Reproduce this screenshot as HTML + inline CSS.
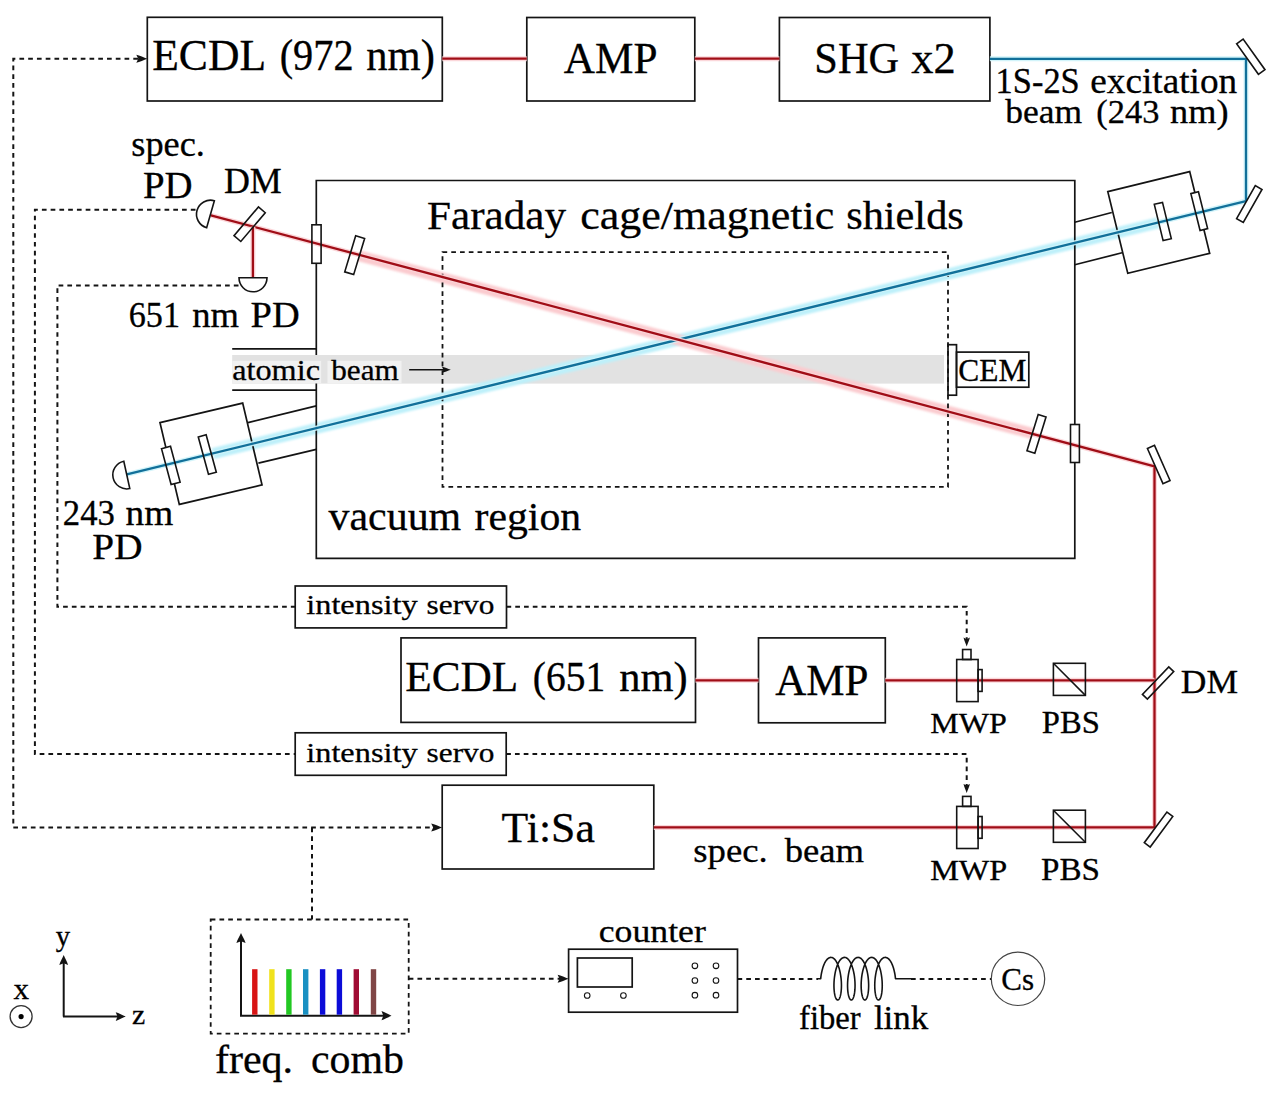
<!DOCTYPE html>
<html><head><meta charset="utf-8"><style>
html,body{margin:0;padding:0;background:#fff;}
svg{display:block;font-family:"Liberation Serif",serif;}
</style></head><body>
<svg width="1277" height="1094" viewBox="0 0 1277 1094">
<defs><filter id="soft" x="-5%" y="-50%" width="110%" height="200%"><feGaussianBlur stdDeviation="0.8"/></filter></defs>
<rect width="1277" height="1094" fill="#fff"/>
<polyline points="138.0,58.8 13.3,58.8 13.3,827.6 433.0,827.6" fill="none" stroke="#141414" stroke-width="2.0" stroke-dasharray="4.7 4.06" />
<path d="M147.30,58.80 C144.00,60.00 139.60,62.00 136.30,62.80 L138.28,58.80 L136.30,54.80 C139.60,55.60 144.00,57.60 147.30,58.80 Z" fill="#141414" stroke="none"/>
<path d="M442.20,827.60 C438.90,828.80 434.50,830.80 431.20,831.60 L433.18,827.60 L431.20,823.60 C434.50,824.40 438.90,826.40 442.20,827.60 Z" fill="#141414" stroke="none"/>
<polyline points="195.5,209.8 34.9,209.8 34.9,754.0 295.2,754.0" fill="none" stroke="#141414" stroke-width="2.0" stroke-dasharray="4.7 4.06" />
<polyline points="506.2,754.0 966.7,754.0 966.7,786.0" fill="none" stroke="#141414" stroke-width="2.0" stroke-dasharray="4.7 4.06" />
<path d="M966.70,793.00 C965.74,790.30 964.14,786.70 963.50,784.00 L966.70,785.62 L969.90,784.00 C969.26,786.70 967.66,790.30 966.70,793.00 Z" fill="#141414" stroke="none"/>
<polyline points="238.5,285.5 57.4,285.5 57.4,606.8 295.2,606.8" fill="none" stroke="#141414" stroke-width="2.0" stroke-dasharray="4.7 4.06" />
<polyline points="506.5,606.8 966.7,606.8 966.7,640.0" fill="none" stroke="#141414" stroke-width="2.0" stroke-dasharray="4.7 4.06" />
<path d="M966.70,646.60 C965.74,643.90 964.14,640.30 963.50,637.60 L966.70,639.22 L969.90,637.60 C969.26,640.30 967.66,643.90 966.70,646.60 Z" fill="#141414" stroke="none"/>
<polyline points="312.0,827.6 312.0,919.5" fill="none" stroke="#141414" stroke-width="2.0" stroke-dasharray="4.7 4.06" />
<polyline points="408.7,978.8 560.0,978.8" fill="none" stroke="#141414" stroke-width="2.0" stroke-dasharray="4.7 4.06" />
<path d="M568.60,978.80 C565.30,980.00 560.90,982.00 557.60,982.80 L559.58,978.80 L557.60,974.80 C560.90,975.60 565.30,977.60 568.60,978.80 Z" fill="#141414" stroke="none"/>
<polyline points="737.5,978.9 818.0,978.9" fill="none" stroke="#141414" stroke-width="2.0" stroke-dasharray="4.7 4.06" />
<polyline points="911.0,978.9 991.1,978.9" fill="none" stroke="#141414" stroke-width="2.0" stroke-dasharray="4.7 4.06" />
<rect x="232.2" y="355.0" width="711.8" height="28.6" fill="#e2e2e2"/>
<rect x="232.2" y="360.8" width="89" height="22.8" fill="#f1f1f1"/>
<rect x="327.5" y="360.8" width="74" height="22.8" fill="#f1f1f1"/>
<line x1="213" y1="453.6" x2="1158" y2="222.8" stroke="#bdf0fa" stroke-width="11" filter="url(#soft)"/>
<line x1="356" y1="255.0" x2="1036" y2="434.4" stroke="#fbcbcf" stroke-width="11" filter="url(#soft)"/>
<rect x="147.3" y="17.3" width="295.0" height="83.7" fill="none" stroke="#141414" stroke-width="1.7" />
<rect x="526.8" y="17.5" width="168.0" height="83.5" fill="none" stroke="#141414" stroke-width="1.7" />
<rect x="779.4" y="17.5" width="210.5" height="83.5" fill="none" stroke="#141414" stroke-width="1.7" />
<path d="M316.3,355 V180.5 H1074.8 V558.3 H316.3 V383.6" fill="none" stroke="#141414" stroke-width="1.7"/>
<rect x="442.5" y="252.1" width="505.5" height="234.8" fill="none" stroke="#141414" stroke-width="1.8" stroke-dasharray="4.7 4.06"/>
<rect x="948.0" y="344.7" width="8.5" height="50.5" fill="none" stroke="#141414" stroke-width="1.7" />
<rect x="956.5" y="352.1" width="72.3" height="35.1" fill="none" stroke="#141414" stroke-width="1.7" />
<rect x="295.2" y="586.0" width="211.3" height="41.9" fill="none" stroke="#141414" stroke-width="1.7" />
<rect x="295.2" y="732.8" width="211.0" height="42.5" fill="none" stroke="#141414" stroke-width="1.7" />
<rect x="401.0" y="637.9" width="294.5" height="84.5" fill="none" stroke="#141414" stroke-width="1.7" />
<rect x="758.5" y="637.9" width="126.8" height="84.9" fill="none" stroke="#141414" stroke-width="1.7" />
<rect x="442.2" y="785.2" width="211.6" height="83.8" fill="none" stroke="#141414" stroke-width="1.7" />
<rect x="210.7" y="919.5" width="198.0" height="114.1" fill="none" stroke="#141414" stroke-width="1.8" stroke-dasharray="4.7 4.06"/>
<line x1="232.2" y1="348.8" x2="316.3" y2="348.8" stroke="#141414" stroke-width="1.7" />
<line x1="232.2" y1="390.2" x2="316.3" y2="390.2" stroke="#141414" stroke-width="1.7" />
<line x1="409.2" y1="369.7" x2="446.0" y2="369.7" stroke="#141414" stroke-width="1.5" />
<path d="M450.80,369.70 C448.10,370.66 444.50,372.26 441.80,372.90 L443.42,369.70 L441.80,366.50 C444.50,367.14 448.10,368.74 450.80,369.70 Z" fill="#141414" stroke="none"/>
<line x1="1074.8" y1="222.2" x2="1111.8" y2="212.5" stroke="#141414" stroke-width="1.7" />
<line x1="1074.8" y1="264.7" x2="1122.0" y2="252.8" stroke="#141414" stroke-width="1.7" />
<line x1="248.0" y1="422.6" x2="316.3" y2="405.8" stroke="#141414" stroke-width="1.7" />
<line x1="258.4" y1="463.2" x2="316.3" y2="449.3" stroke="#141414" stroke-width="1.7" />
<polygon points="1107.81,191.67 1189.71,171.62 1209.69,253.28 1127.79,273.33" fill="none" stroke="#141414" stroke-width="1.7" stroke-linejoin="miter" />
<polygon points="159.98,422.66 242.68,403.11 262.02,484.89 179.32,504.44" fill="none" stroke="#141414" stroke-width="1.7" stroke-linejoin="miter" />
<polygon points="1190.86,193.65 1198.44,191.75 1207.64,228.65 1200.06,230.55" fill="#fff" stroke="none" stroke-width="0" stroke-linejoin="miter" />
<polygon points="161.50,448.65 170.50,446.25 180.10,482.15 171.10,484.55" fill="#fff" stroke="none" stroke-width="0" stroke-linejoin="miter" />
<polygon points="344.73,271.89 353.67,274.61 364.62,238.51 355.68,235.79" fill="#fff" stroke="none" stroke-width="0" stroke-linejoin="miter" />
<polygon points="1026.98,450.84 1034.82,453.26 1046.02,416.91 1038.18,414.49" fill="#fff" stroke="none" stroke-width="0" stroke-linejoin="miter" />
<polygon points="1154.30,204.34 1162.50,202.36 1171.30,238.66 1163.10,240.64" fill="#fff" stroke="none" stroke-width="0" stroke-linejoin="miter" />
<polygon points="198.28,436.97 206.12,434.83 216.32,472.18 208.48,474.32" fill="#fff" stroke="none" stroke-width="0" stroke-linejoin="miter" />
<polygon points="234.00,235.71 240.80,241.49 265.25,212.74 258.45,206.96" fill="#fff" stroke="none" stroke-width="0" stroke-linejoin="miter" />
<polygon points="1142.42,694.38 1147.38,699.12 1173.73,671.57 1168.77,666.83" fill="#fff" stroke="none" stroke-width="0" stroke-linejoin="miter" />
<rect x="311.9" y="224.8" width="9.2" height="38.5" fill="#fff" stroke="none" stroke-width="0" />
<rect x="1070.5" y="424.5" width="8.9" height="38.0" fill="#fff" stroke="none" stroke-width="0" />
<rect x="956.7" y="659.5" width="21.4" height="42.1" fill="#fff" stroke="none" stroke-width="0" />
<rect x="962.6" y="649.5" width="8.4" height="10.0" fill="#fff" stroke="none" stroke-width="0" />
<rect x="978.1" y="669.6" width="4.0" height="21.8" fill="#fff" stroke="none" stroke-width="0" />
<rect x="956.7" y="806.4" width="21.4" height="42.1" fill="#fff" stroke="none" stroke-width="0" />
<rect x="962.6" y="796.4" width="8.4" height="10.0" fill="#fff" stroke="none" stroke-width="0" />
<rect x="978.1" y="816.5" width="4.0" height="21.8" fill="#fff" stroke="none" stroke-width="0" />
<rect x="1053.4" y="663.3" width="32.0" height="32.1" fill="#fff" stroke="none" stroke-width="0" />
<rect x="1053.4" y="810.2" width="32.0" height="32.1" fill="#fff" stroke="none" stroke-width="0" />
<polyline points="989.90,58.80 1246.00,58.80 1246.00,201.00 126.80,474.40" fill="none" stroke="#cdf3fa" stroke-width="5.0" stroke-linejoin="miter" opacity="0.9"/>
<polyline points="989.90,58.80 1246.00,58.80 1246.00,201.00 126.80,474.40" fill="none" stroke="#11709a" stroke-width="2.3" stroke-linejoin="miter"/>
<polyline points="442.30,58.70 526.80,58.70" fill="none" stroke="#fbd3d6" stroke-width="5.0" stroke-linejoin="miter" opacity="0.9"/>
<polyline points="442.30,58.70 526.80,58.70" fill="none" stroke="#a00d16" stroke-width="2.3" stroke-linejoin="miter"/>
<polyline points="694.80,58.70 779.40,58.70" fill="none" stroke="#fbd3d6" stroke-width="5.0" stroke-linejoin="miter" opacity="0.9"/>
<polyline points="694.80,58.70 779.40,58.70" fill="none" stroke="#a00d16" stroke-width="2.3" stroke-linejoin="miter"/>
<polyline points="210.90,215.40 1154.50,466.40 1154.50,827.40 653.80,827.40" fill="none" stroke="#fbd3d6" stroke-width="5.0" stroke-linejoin="miter" opacity="0.9"/>
<polyline points="210.90,215.40 1154.50,466.40 1154.50,827.40 653.80,827.40" fill="none" stroke="#a00d16" stroke-width="2.3" stroke-linejoin="miter"/>
<polyline points="695.50,680.30 758.50,680.30" fill="none" stroke="#fbd3d6" stroke-width="5.0" stroke-linejoin="miter" opacity="0.9"/>
<polyline points="695.50,680.30 758.50,680.30" fill="none" stroke="#a00d16" stroke-width="2.3" stroke-linejoin="miter"/>
<polyline points="885.30,680.30 1154.50,680.30" fill="none" stroke="#fbd3d6" stroke-width="5.0" stroke-linejoin="miter" opacity="0.9"/>
<polyline points="885.30,680.30 1154.50,680.30" fill="none" stroke="#a00d16" stroke-width="2.3" stroke-linejoin="miter"/>
<polyline points="252.90,226.57 252.90,277.80" fill="none" stroke="#fbd3d6" stroke-width="5.0" stroke-linejoin="miter" opacity="0.9"/>
<polyline points="252.90,226.57 252.90,277.80" fill="none" stroke="#a00d16" stroke-width="2.3" stroke-linejoin="miter"/>
<polygon points="1190.86,193.65 1198.44,191.75 1207.64,228.65 1200.06,230.55" fill="none" stroke="#141414" stroke-width="1.6" stroke-linejoin="miter" />
<polygon points="161.50,448.65 170.50,446.25 180.10,482.15 171.10,484.55" fill="none" stroke="#141414" stroke-width="1.6" stroke-linejoin="miter" />
<polygon points="344.73,271.89 353.67,274.61 364.62,238.51 355.68,235.79" fill="none" stroke="#141414" stroke-width="1.6" stroke-linejoin="miter" />
<polygon points="1026.98,450.84 1034.82,453.26 1046.02,416.91 1038.18,414.49" fill="none" stroke="#141414" stroke-width="1.6" stroke-linejoin="miter" />
<polygon points="1154.30,204.34 1162.50,202.36 1171.30,238.66 1163.10,240.64" fill="none" stroke="#141414" stroke-width="1.6" stroke-linejoin="miter" />
<polygon points="198.28,436.97 206.12,434.83 216.32,472.18 208.48,474.32" fill="none" stroke="#141414" stroke-width="1.6" stroke-linejoin="miter" />
<polygon points="234.00,235.71 240.80,241.49 265.25,212.74 258.45,206.96" fill="none" stroke="#141414" stroke-width="1.6" stroke-linejoin="miter" />
<polygon points="1142.42,694.38 1147.38,699.12 1173.73,671.57 1168.77,666.83" fill="none" stroke="#141414" stroke-width="1.6" stroke-linejoin="miter" />
<rect x="311.9" y="224.8" width="9.2" height="38.5" fill="none" stroke="#141414" stroke-width="1.6" />
<rect x="1070.5" y="424.5" width="8.9" height="38.0" fill="none" stroke="#141414" stroke-width="1.6" />
<rect x="956.7" y="659.5" width="21.4" height="42.1" fill="none" stroke="#141414" stroke-width="1.6" />
<rect x="962.6" y="649.5" width="8.4" height="10.0" fill="none" stroke="#141414" stroke-width="1.6" />
<rect x="978.1" y="669.6" width="4.0" height="21.8" fill="none" stroke="#141414" stroke-width="1.6" />
<rect x="956.7" y="806.4" width="21.4" height="42.1" fill="none" stroke="#141414" stroke-width="1.6" />
<rect x="962.6" y="796.4" width="8.4" height="10.0" fill="none" stroke="#141414" stroke-width="1.6" />
<rect x="978.1" y="816.5" width="4.0" height="21.8" fill="none" stroke="#141414" stroke-width="1.6" />
<rect x="1053.4" y="663.3" width="32.0" height="32.1" fill="none" stroke="#141414" stroke-width="1.6" />
<line x1="1053.4" y1="663.3" x2="1085.4" y2="695.4" stroke="#141414" stroke-width="1.6" />
<rect x="1053.4" y="810.2" width="32.0" height="32.1" fill="none" stroke="#141414" stroke-width="1.6" />
<line x1="1053.4" y1="810.2" x2="1085.4" y2="842.3" stroke="#141414" stroke-width="1.6" />
<polygon points="1236.58,43.79 1243.12,39.11 1264.97,69.66 1258.43,74.34" fill="#fff" stroke="#141414" stroke-width="1.6" stroke-linejoin="miter" />
<polygon points="1236.61,218.61 1255.31,185.66 1261.99,189.44 1243.29,222.39" fill="#fff" stroke="#141414" stroke-width="1.6" stroke-linejoin="miter" />
<polygon points="1147.41,448.46 1154.49,445.34 1170.04,480.54 1162.96,483.66" fill="#fff" stroke="#141414" stroke-width="1.6" stroke-linejoin="miter" />
<polygon points="1144.31,842.67 1150.19,847.03 1172.79,816.48 1166.91,812.12" fill="#fff" stroke="#141414" stroke-width="1.6" stroke-linejoin="miter" />
<path d="M0,-14.0 A14.0,14.0 0 0 0 0,14.0 Z" transform="translate(210.5,214.2) rotate(16.0)" fill="#fff" stroke="#141414" stroke-width="1.6"/>
<path d="M0,-14.0 A14.0,14.0 0 0 0 0,14.0 Z" transform="translate(253.0,277.8) rotate(-90.0)" fill="#fff" stroke="#141414" stroke-width="1.6"/>
<path d="M0,-14.0 A14.0,14.0 0 0 0 0,14.0 Z" transform="translate(126.8,474.9) rotate(-12.4)" fill="#fff" stroke="#141414" stroke-width="1.6"/>
<line x1="63.7" y1="1016.6" x2="63.7" y2="960.0" stroke="#141414" stroke-width="2.0" />
<path d="M63.70,955.00 C65.02,958.00 67.22,962.00 68.10,965.00 L63.70,963.20 L59.30,965.00 C60.18,962.00 62.38,958.00 63.70,955.00 Z" fill="#141414" stroke="none"/>
<line x1="63.0" y1="1016.6" x2="120.0" y2="1016.6" stroke="#141414" stroke-width="2.0" />
<path d="M125.70,1016.60 C122.70,1017.92 118.70,1020.12 115.70,1021.00 L117.50,1016.60 L115.70,1012.20 C118.70,1013.08 122.70,1015.28 125.70,1016.60 Z" fill="#141414" stroke="none"/>
<circle cx="21.1" cy="1016.6" r="11.0" fill="none" stroke="#333" stroke-width="1.3"/>
<circle cx="21.1" cy="1016.6" r="2.6" fill="#000"/>
<line x1="241.0" y1="1015.7" x2="241.0" y2="939.0" stroke="#141414" stroke-width="2.0" />
<path d="M241.00,933.10 C242.38,936.10 244.68,940.10 245.60,943.10 L241.00,941.30 L236.40,943.10 C237.32,940.10 239.62,936.10 241.00,933.10 Z" fill="#141414" stroke="none"/>
<line x1="240.0" y1="1015.7" x2="386.0" y2="1015.7" stroke="#141414" stroke-width="2.0" />
<path d="M391.50,1015.70 C388.50,1017.08 384.50,1019.38 381.50,1020.30 L383.30,1015.70 L381.50,1011.10 C384.50,1012.02 388.50,1014.32 391.50,1015.70 Z" fill="#141414" stroke="none"/>
<rect x="252.1" y="969.2" width="5.4" height="45.5" fill="#d81414"/>
<rect x="269.2" y="969.2" width="5.4" height="45.5" fill="#f0e21c"/>
<rect x="286.2" y="969.2" width="5.4" height="45.5" fill="#22c822"/>
<rect x="303.0" y="969.2" width="5.4" height="45.5" fill="#1a90c2"/>
<rect x="319.9" y="969.2" width="5.4" height="45.5" fill="#0c0cd8"/>
<rect x="336.7" y="969.2" width="5.4" height="45.5" fill="#0c0cd8"/>
<rect x="353.6" y="969.2" width="5.4" height="45.5" fill="#a00c34"/>
<rect x="370.8" y="969.2" width="5.4" height="45.5" fill="#804646"/>
<rect x="568.6" y="949.2" width="168.9" height="63.0" fill="none" stroke="#141414" stroke-width="1.7" />
<rect x="577.4" y="958.0" width="54.8" height="29.0" fill="none" stroke="#141414" stroke-width="1.7" />
<circle cx="587.2" cy="995.5" r="2.8" fill="none" stroke="#141414" stroke-width="1.1"/>
<circle cx="623.4" cy="995.5" r="2.8" fill="none" stroke="#141414" stroke-width="1.1"/>
<circle cx="694.9" cy="965.8" r="2.8" fill="none" stroke="#141414" stroke-width="1.1"/>
<circle cx="716.0" cy="965.8" r="2.8" fill="none" stroke="#141414" stroke-width="1.1"/>
<circle cx="694.9" cy="980.5" r="2.8" fill="none" stroke="#141414" stroke-width="1.1"/>
<circle cx="716.0" cy="980.5" r="2.8" fill="none" stroke="#141414" stroke-width="1.1"/>
<circle cx="694.9" cy="995.2" r="2.8" fill="none" stroke="#141414" stroke-width="1.1"/>
<circle cx="716.0" cy="995.2" r="2.8" fill="none" stroke="#141414" stroke-width="1.1"/>
<polyline points="817.80,978.80 820.70,978.70 820.87,977.20 821.07,975.70 821.31,974.22 821.58,972.76 821.89,971.33 822.22,969.93 822.59,968.59 822.98,967.29 823.41,966.05 823.86,964.87 824.34,963.76 824.84,962.72 825.36,961.77 825.91,960.90 826.47,960.12 827.05,959.43 827.65,958.83 828.25,958.34 828.87,957.95 829.50,957.66 830.13,957.48 830.76,957.40 831.39,957.43 832.02,957.57 832.65,957.81 833.27,958.15 833.88,958.60 834.48,959.15 835.07,959.80 835.64,960.54 836.20,961.37 836.73,962.29 837.24,963.29 837.73,964.36 838.20,965.51 838.63,966.73 839.04,968.00 839.42,969.33 839.77,970.70 840.09,972.12 840.37,973.57 840.62,975.04 840.84,976.53 841.03,978.03 841.18,979.54 841.30,981.04 841.38,982.53 841.43,984.00 841.45,985.44 841.43,986.85 841.39,988.22 841.31,989.54 841.20,990.81 841.07,992.02 840.91,993.16 840.72,994.23 840.51,995.22 840.28,996.13 840.03,996.95 839.77,997.68 839.48,998.31 839.19,998.85 838.88,999.29 838.57,999.62 838.24,999.85 837.92,999.98 837.59,999.99 837.26,999.91 836.94,999.71 836.62,999.41 836.31,999.01 836.01,998.50 835.73,997.90 835.45,997.20 835.20,996.41 834.96,995.53 834.74,994.57 834.55,993.52 834.38,992.41 834.24,991.22 834.12,989.97 834.04,988.67 833.98,987.31 833.95,985.92 833.96,984.48 834.00,983.02 834.07,981.54 834.18,980.04 834.32,978.53 834.49,977.03 834.70,975.53 834.94,974.05 835.21,972.60 835.52,971.17 835.86,969.78 836.23,968.44 836.63,967.15 837.06,965.91 837.51,964.74 837.99,963.64 838.50,962.61 839.02,961.67 839.57,960.81 840.14,960.03 840.72,959.36 841.31,958.78 841.92,958.29 842.54,957.91 843.17,957.64 843.80,957.47 844.43,957.40 845.06,957.44 845.69,957.59 846.32,957.84 846.94,958.20 847.55,958.66 848.15,959.22 848.74,959.88 849.31,960.63 849.86,961.47 850.39,962.40 850.90,963.40 851.38,964.49 851.85,965.65 852.28,966.87 852.68,968.15 853.06,969.48 853.41,970.86 853.72,972.28 854.00,973.73 854.25,975.20 854.47,976.70 854.65,978.20 854.79,979.70 854.91,981.20 854.99,982.69 855.03,984.16 855.05,985.60 855.03,987.01 854.98,988.37 854.90,989.69 854.79,990.95 854.65,992.15 854.49,993.28 854.30,994.34 854.09,995.32 853.86,996.22 853.61,997.03 853.34,997.75 853.05,998.38 852.76,998.91 852.45,999.33 852.13,999.65 851.81,999.87 851.48,999.98 851.15,999.99 850.83,999.89 850.50,999.68 850.19,999.37 849.88,998.96 849.58,998.44 849.29,997.83 849.02,997.12 848.77,996.32 848.54,995.43 848.32,994.45 848.13,993.40 847.96,992.28 847.82,991.08 847.71,989.83 847.63,988.52 847.58,987.16 847.55,985.76 847.56,984.32 847.61,982.86 847.68,981.37 847.79,979.87 847.93,978.37 848.11,976.86 848.32,975.37 848.57,973.89 848.85,972.44 849.16,971.01 849.50,969.63 849.87,968.29 850.27,967.01 850.71,965.78 851.16,964.61 851.65,963.52 852.15,962.50 852.68,961.57 853.23,960.72 853.80,959.95 854.38,959.29 854.98,958.72 855.59,958.25 856.21,957.88 856.84,957.61 857.47,957.45 858.10,957.40 858.73,957.45 859.36,957.61 859.99,957.88 860.61,958.25 861.22,958.72 861.82,959.29 862.40,959.95 862.97,960.72 863.52,961.57 864.05,962.50 864.55,963.52 865.04,964.61 865.49,965.78 865.93,967.01 866.33,968.29 866.70,969.63 867.04,971.01 867.35,972.44 867.63,973.89 867.88,975.37 868.09,976.86 868.27,978.37 868.41,979.87 868.52,981.37 868.59,982.86 868.64,984.32 868.65,985.76 868.62,987.16 868.57,988.52 868.49,989.83 868.38,991.08 868.24,992.28 868.07,993.40 867.88,994.45 867.66,995.43 867.43,996.32 867.18,997.12 866.91,997.83 866.62,998.44 866.32,998.96 866.01,999.37 865.70,999.68 865.37,999.89 865.05,999.99 864.72,999.98 864.39,999.87 864.07,999.65 863.75,999.33 863.44,998.91 863.15,998.38 862.86,997.75 862.59,997.03 862.34,996.22 862.11,995.32 861.90,994.34 861.71,993.28 861.55,992.15 861.41,990.95 861.30,989.69 861.22,988.37 861.17,987.01 861.15,985.60 861.17,984.16 861.21,982.69 861.29,981.20 861.41,979.70 861.55,978.20 861.73,976.70 861.95,975.20 862.20,973.73 862.48,972.28 862.79,970.86 863.14,969.48 863.52,968.15 863.92,966.87 864.35,965.65 864.82,964.49 865.30,963.40 865.81,962.40 866.34,961.47 866.89,960.63 867.46,959.88 868.05,959.22 868.65,958.66 869.26,958.20 869.88,957.84 870.51,957.59 871.14,957.44 871.77,957.40 872.40,957.47 873.03,957.64 873.66,957.91 874.28,958.29 874.89,958.78 875.48,959.36 876.06,960.03 876.63,960.81 877.18,961.67 877.70,962.61 878.21,963.64 878.69,964.74 879.14,965.91 879.57,967.15 879.97,968.44 880.34,969.78 880.68,971.17 880.99,972.60 881.26,974.05 881.50,975.53 881.71,977.03 881.88,978.53 882.02,980.04 882.13,981.54 882.20,983.02 882.24,984.48 882.25,985.92 882.22,987.31 882.16,988.67 882.08,989.97 881.96,991.22 881.82,992.41 881.65,993.52 881.46,994.57 881.24,995.53 881.00,996.41 880.75,997.20 880.47,997.90 880.19,998.50 879.89,999.01 879.58,999.41 879.26,999.71 878.94,999.91 878.61,999.99 878.28,999.98 877.96,999.85 877.63,999.62 877.32,999.29 877.01,998.85 876.72,998.31 876.43,997.68 876.17,996.95 875.92,996.13 875.69,995.22 875.48,994.23 875.29,993.16 875.13,992.02 875.00,990.81 874.89,989.54 874.81,988.22 874.77,986.85 874.75,985.44 874.77,984.00 874.82,982.53 874.90,981.04 875.02,979.54 875.17,978.03 875.36,976.53 875.58,975.04 875.83,973.57 876.11,972.12 876.43,970.70 876.78,969.33 877.16,968.00 877.57,966.73 878.00,965.51 878.47,964.36 878.96,963.29 879.47,962.29 880.00,961.37 880.56,960.54 881.13,959.80 881.72,959.15 882.32,958.60 882.93,958.15 883.55,957.81 884.18,957.57 884.81,957.43 885.44,957.40 886.07,957.48 886.70,957.66 887.33,957.95 887.95,958.34 888.55,958.83 889.15,959.43 889.73,960.12 890.29,960.90 890.84,961.77 891.36,962.72 891.86,963.76 892.34,964.87 892.79,966.05 893.22,967.29 893.61,968.59 893.98,969.93 894.31,971.33 894.62,972.76 894.89,974.22 895.13,975.70 895.33,977.20 895.50,978.70 911.00,978.80" fill="none" stroke="#141414" stroke-width="1.6" stroke-linejoin="round"/>
<circle cx="1018.0" cy="978.8" r="26.7" fill="none" stroke="#444" stroke-width="1.2"/>
<text transform="matrix(0.4361 0 0 0.4354 152.19 70.00)" font-size="100" fill="#000" stroke="#000" stroke-width="0.69">ECDL</text>
<text transform="matrix(0.4029 0 0 0.4354 279.69 70.00)" font-size="100" fill="#000" stroke="#000" stroke-width="0.72">(972</text>
<text transform="matrix(0.4258 0 0 0.4354 366.25 70.00)" font-size="100" fill="#000" stroke="#000" stroke-width="0.70">nm)</text>
<text transform="matrix(0.4321 0 0 0.4431 563.87 72.80)" font-size="100" fill="#000" stroke="#000" stroke-width="0.69">AMP</text>
<text transform="matrix(0.4237 0 0 0.4385 814.33 73.00)" font-size="100" fill="#000" stroke="#000" stroke-width="0.70">SHG</text>
<text transform="matrix(0.4441 0 0 0.4385 911.36 73.00)" font-size="100" fill="#000" stroke="#000" stroke-width="0.68">x2</text>
<text transform="matrix(0.3441 0 0 0.3492 995.60 92.50)" font-size="100" fill="#000" stroke="#000" stroke-width="0.87">1S-2S</text>
<text transform="matrix(0.3725 0 0 0.3492 1090.31 92.50)" font-size="100" fill="#000" stroke="#000" stroke-width="0.83">excitation</text>
<text transform="matrix(0.3549 0 0 0.3406 1005.30 123.20)" font-size="100" fill="#000" stroke="#000" stroke-width="0.86">beam</text>
<text transform="matrix(0.3446 0 0 0.3406 1096.22 123.20)" font-size="100" fill="#000" stroke="#000" stroke-width="0.88">(243</text>
<text transform="matrix(0.3632 0 0 0.3406 1170.07 123.20)" font-size="100" fill="#000" stroke="#000" stroke-width="0.85">nm)</text>
<text transform="matrix(0.3635 0 0 0.3609 131.25 155.70)" font-size="100" fill="#000" stroke="#000" stroke-width="0.83">spec.</text>
<text transform="matrix(0.3884 0 0 0.3692 143.03 197.60)" font-size="100" fill="#000" stroke="#000" stroke-width="0.79">PD</text>
<text transform="matrix(0.3594 0 0 0.3631 223.92 193.00)" font-size="100" fill="#000" stroke="#000" stroke-width="0.83">DM</text>
<text transform="matrix(0.4317 0 0 0.4046 427.01 229.30)" font-size="100" fill="#000" stroke="#000" stroke-width="0.72">Faraday</text>
<text transform="matrix(0.4402 0 0 0.4046 580.24 229.30)" font-size="100" fill="#000" stroke="#000" stroke-width="0.71">cage/magnetic</text>
<text transform="matrix(0.4233 0 0 0.4046 846.21 229.30)" font-size="100" fill="#000" stroke="#000" stroke-width="0.72">shields</text>
<text transform="matrix(0.3421 0 0 0.3492 128.73 327.40)" font-size="100" fill="#000" stroke="#000" stroke-width="0.87">651</text>
<text transform="matrix(0.3661 0 0 0.3492 192.17 327.40)" font-size="100" fill="#000" stroke="#000" stroke-width="0.84">nm</text>
<text transform="matrix(0.3843 0 0 0.3492 250.55 327.40)" font-size="100" fill="#000" stroke="#000" stroke-width="0.82">PD</text>
<text transform="matrix(0.3226 0 0 0.3000 232.21 380.40)" font-size="100" fill="#000" stroke="#000" stroke-width="0.96">atomic</text>
<text transform="matrix(0.3121 0 0 0.3000 331.20 380.40)" font-size="100" fill="#000" stroke="#000" stroke-width="0.98">beam</text>
<text transform="matrix(0.3143 0 0 0.3154 958.24 380.60)" font-size="100" fill="#000" stroke="#000" stroke-width="0.95">CEM</text>
<text transform="matrix(0.3472 0 0 0.3523 62.81 524.60)" font-size="100" fill="#000" stroke="#000" stroke-width="0.86">243</text>
<text transform="matrix(0.3734 0 0 0.3523 125.55 524.60)" font-size="100" fill="#000" stroke="#000" stroke-width="0.83">nm</text>
<text transform="matrix(0.3926 0 0 0.3600 92.32 558.70)" font-size="100" fill="#000" stroke="#000" stroke-width="0.80">PD</text>
<text transform="matrix(0.4194 0 0 0.3913 328.50 529.90)" font-size="100" fill="#000" stroke="#000" stroke-width="0.74">vacuum</text>
<text transform="matrix(0.4171 0 0 0.3913 474.57 529.90)" font-size="100" fill="#000" stroke="#000" stroke-width="0.74">region</text>
<text transform="matrix(0.3234 0 0 0.2739 306.25 614.10)" font-size="100" fill="#000" stroke="#000" stroke-width="1.00">intensity</text>
<text transform="matrix(0.3134 0 0 0.2739 426.55 614.10)" font-size="100" fill="#000" stroke="#000" stroke-width="1.02">servo</text>
<text transform="matrix(0.3234 0 0 0.2739 306.25 761.50)" font-size="100" fill="#000" stroke="#000" stroke-width="1.00">intensity</text>
<text transform="matrix(0.3134 0 0 0.2739 426.55 761.50)" font-size="100" fill="#000" stroke="#000" stroke-width="1.02">servo</text>
<text transform="matrix(0.4333 0 0 0.4262 405.20 690.60)" font-size="100" fill="#000" stroke="#000" stroke-width="0.70">ECDL</text>
<text transform="matrix(0.3948 0 0 0.4262 532.82 690.60)" font-size="100" fill="#000" stroke="#000" stroke-width="0.73">(651</text>
<text transform="matrix(0.4245 0 0 0.4262 619.35 690.60)" font-size="100" fill="#000" stroke="#000" stroke-width="0.71">nm)</text>
<text transform="matrix(0.4307 0 0 0.4431 775.17 694.60)" font-size="100" fill="#000" stroke="#000" stroke-width="0.69">AMP</text>
<text transform="matrix(0.3207 0 0 0.2969 930.34 733.20)" font-size="100" fill="#000" stroke="#000" stroke-width="0.97">MWP</text>
<text transform="matrix(0.3260 0 0 0.3062 1041.82 733.20)" font-size="100" fill="#000" stroke="#000" stroke-width="0.95">PBS</text>
<text transform="matrix(0.3555 0 0 0.3277 1180.83 692.60)" font-size="100" fill="#000" stroke="#000" stroke-width="0.88">DM</text>
<text transform="matrix(0.4376 0 0 0.4154 501.62 841.90)" font-size="100" fill="#000" stroke="#000" stroke-width="0.70">Ti:Sa</text>
<text transform="matrix(0.3677 0 0 0.3348 693.23 862.00)" font-size="100" fill="#000" stroke="#000" stroke-width="0.85">spec.</text>
<text transform="matrix(0.3665 0 0 0.3348 784.70 862.00)" font-size="100" fill="#000" stroke="#000" stroke-width="0.86">beam</text>
<text transform="matrix(0.3228 0 0 0.3046 930.13 880.20)" font-size="100" fill="#000" stroke="#000" stroke-width="0.96">MWP</text>
<text transform="matrix(0.3314 0 0 0.3123 1041.01 880.20)" font-size="100" fill="#000" stroke="#000" stroke-width="0.93">PBS</text>
<text transform="matrix(0.3569 0 0 0.3217 598.77 942.00)" font-size="100" fill="#000" stroke="#000" stroke-width="0.88">counter</text>
<text transform="matrix(0.3270 0 0 0.3319 799.02 1028.50)" font-size="100" fill="#000" stroke="#000" stroke-width="0.91">fiber</text>
<text transform="matrix(0.3490 0 0 0.3319 873.90 1028.50)" font-size="100" fill="#000" stroke="#000" stroke-width="0.88">link</text>
<text transform="matrix(0.3102 0 0 0.3246 1001.36 989.80)" font-size="100" fill="#000" stroke="#000" stroke-width="0.95">Cs</text>
<text transform="matrix(0.4199 0 0 0.4072 214.94 1072.70)" font-size="100" fill="#000" stroke="#000" stroke-width="0.73">freq.</text>
<text transform="matrix(0.4182 0 0 0.4072 310.93 1072.70)" font-size="100" fill="#000" stroke="#000" stroke-width="0.73">comb</text>
<text transform="matrix(0.2878 0 0 0.2957 55.81 945.60)" font-size="100" fill="#000" stroke="#000" stroke-width="1.03">y</text>
<text transform="matrix(0.3104 0 0 0.2935 13.59 999.00)" font-size="100" fill="#000" stroke="#000" stroke-width="0.99">x</text>
<text transform="matrix(0.2974 0 0 0.2696 132.11 1023.70)" font-size="100" fill="#000" stroke="#000" stroke-width="1.06">z</text>
</svg></body></html>
